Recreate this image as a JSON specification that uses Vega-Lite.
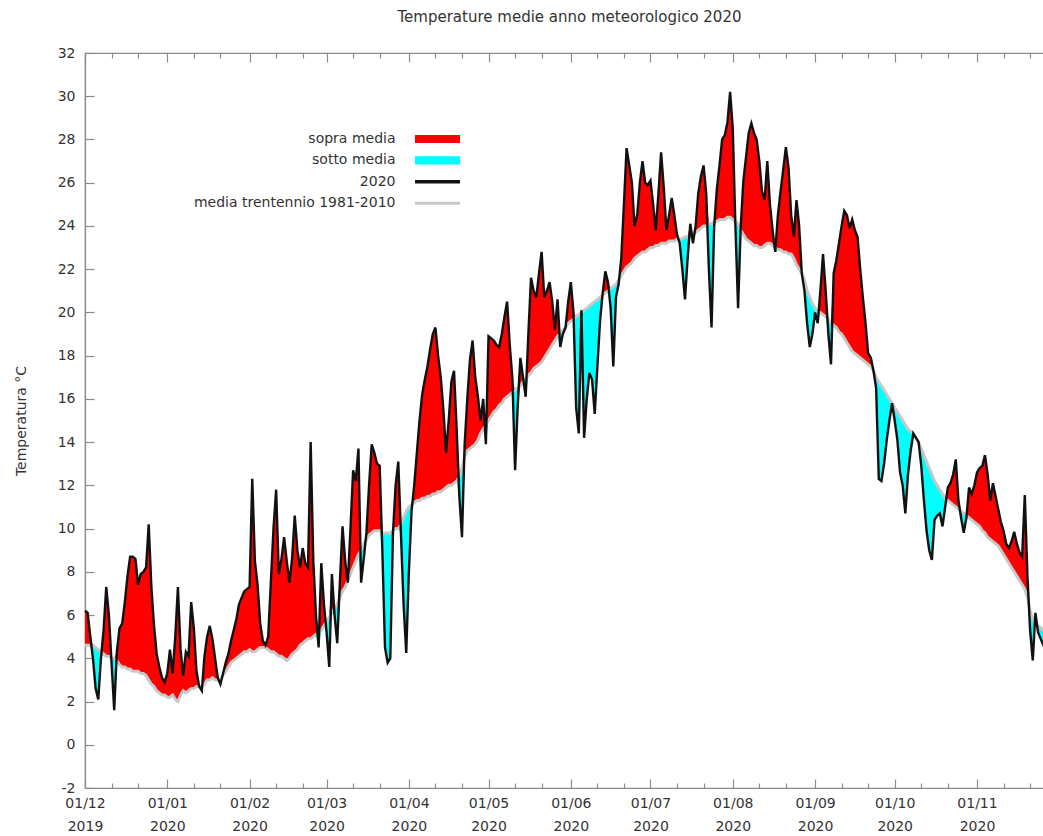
{
"$schema": "https://vega.github.io/schema/vega-lite/v6.json",
"width": 969, "height": 735,
"autosize": {"type": "none"},
"padding": {"left": 85, "top": 53, "right": 0, "bottom": 48},
"background": "white",
"title": {"text": "Temperature medie anno meteorologico 2020", "font": "DejaVu Sans", "fontSize": 15, "fontWeight": "normal", "color": "#333333", "offset": 21, "anchor": "middle"},
"data": {"values": [
{"d":"2019/12/01","t":6.2,"m":4.6},{"d":"2019/12/02","t":6.1,"m":4.6},{"d":"2019/12/03","t":5.0,"m":4.6},{"d":"2019/12/04","t":4.0,"m":4.6},{"d":"2019/12/05","t":2.6,"m":4.5},{"d":"2019/12/06","t":2.1,"m":4.4},{"d":"2019/12/07","t":4.0,"m":4.3},{"d":"2019/12/08","t":5.3,"m":4.2},{"d":"2019/12/09","t":7.3,"m":4.1},{"d":"2019/12/10","t":6.0,"m":4.1},
{"d":"2019/12/11","t":3.8,"m":4.0},{"d":"2019/12/12","t":1.6,"m":4.0},{"d":"2019/12/13","t":4.3,"m":3.9},{"d":"2019/12/14","t":5.4,"m":3.7},{"d":"2019/12/15","t":5.6,"m":3.6},{"d":"2019/12/16","t":6.6,"m":3.6},{"d":"2019/12/17","t":7.8,"m":3.5},{"d":"2019/12/18","t":8.7,"m":3.5},{"d":"2019/12/19","t":8.7,"m":3.4},{"d":"2019/12/20","t":8.6,"m":3.4},
{"d":"2019/12/21","t":7.4,"m":3.4},{"d":"2019/12/22","t":7.9,"m":3.3},{"d":"2019/12/23","t":8.0,"m":3.3},{"d":"2019/12/24","t":8.2,"m":3.2},{"d":"2019/12/25","t":10.2,"m":3.0},{"d":"2019/12/26","t":7.3,"m":2.8},{"d":"2019/12/27","t":5.5,"m":2.7},{"d":"2019/12/28","t":4.2,"m":2.5},{"d":"2019/12/29","t":3.6,"m":2.4},{"d":"2019/12/30","t":3.1,"m":2.3},{"d":"2019/12/31","t":2.9,"m":2.3},
{"d":"2020/01/01","t":3.3,"m":2.2},{"d":"2020/01/02","t":4.4,"m":2.2},{"d":"2020/01/03","t":3.3,"m":2.3},{"d":"2020/01/04","t":5.0,"m":2.1},{"d":"2020/01/05","t":7.3,"m":2.0},{"d":"2020/01/06","t":4.4,"m":2.3},{"d":"2020/01/07","t":3.2,"m":2.5},{"d":"2020/01/08","t":4.3,"m":2.4},{"d":"2020/01/09","t":4.1,"m":2.5},{"d":"2020/01/10","t":6.6,"m":2.6},
{"d":"2020/01/11","t":5.4,"m":2.6},{"d":"2020/01/12","t":3.4,"m":2.7},{"d":"2020/01/13","t":2.7,"m":2.7},{"d":"2020/01/14","t":2.5,"m":2.7},{"d":"2020/01/15","t":4.1,"m":2.8},{"d":"2020/01/16","t":5.0,"m":3.0},{"d":"2020/01/17","t":5.5,"m":3.0},{"d":"2020/01/18","t":4.9,"m":3.1},{"d":"2020/01/19","t":4.0,"m":3.0},{"d":"2020/01/20","t":3.1,"m":3.0},
{"d":"2020/01/21","t":2.8,"m":3.0},{"d":"2020/01/22","t":3.3,"m":3.2},{"d":"2020/01/23","t":3.8,"m":3.4},{"d":"2020/01/24","t":4.2,"m":3.6},{"d":"2020/01/25","t":4.8,"m":3.8},{"d":"2020/01/26","t":5.3,"m":3.9},{"d":"2020/01/27","t":5.8,"m":4.0},{"d":"2020/01/28","t":6.5,"m":4.1},{"d":"2020/01/29","t":6.8,"m":4.2},{"d":"2020/01/30","t":7.1,"m":4.3},{"d":"2020/01/31","t":7.2,"m":4.3},
{"d":"2020/02/01","t":7.3,"m":4.4},{"d":"2020/02/02","t":12.3,"m":4.3},{"d":"2020/02/03","t":8.5,"m":4.3},{"d":"2020/02/04","t":7.4,"m":4.4},{"d":"2020/02/05","t":5.6,"m":4.5},{"d":"2020/02/06","t":4.8,"m":4.5},{"d":"2020/02/07","t":4.6,"m":4.5},{"d":"2020/02/08","t":5.0,"m":4.4},{"d":"2020/02/09","t":7.5,"m":4.3},{"d":"2020/02/10","t":10.0,"m":4.3},
{"d":"2020/02/11","t":11.8,"m":4.2},{"d":"2020/02/12","t":7.9,"m":4.1},{"d":"2020/02/13","t":8.6,"m":4.1},{"d":"2020/02/14","t":9.6,"m":4.0},{"d":"2020/02/15","t":8.5,"m":3.9},{"d":"2020/02/16","t":7.5,"m":4.0},{"d":"2020/02/17","t":8.6,"m":4.2},{"d":"2020/02/18","t":10.6,"m":4.3},{"d":"2020/02/19","t":9.0,"m":4.4},{"d":"2020/02/20","t":8.2,"m":4.6},
{"d":"2020/02/21","t":9.1,"m":4.7},{"d":"2020/02/22","t":8.4,"m":4.8},{"d":"2020/02/23","t":8.2,"m":4.9},{"d":"2020/02/24","t":14.0,"m":4.9},{"d":"2020/02/25","t":8.5,"m":5.0},{"d":"2020/02/26","t":6.0,"m":5.1},{"d":"2020/02/27","t":4.5,"m":5.2},{"d":"2020/02/28","t":8.4,"m":5.3},{"d":"2020/02/29","t":6.5,"m":5.5},
{"d":"2020/03/01","t":5.2,"m":5.7},{"d":"2020/03/02","t":3.6,"m":5.9},{"d":"2020/03/03","t":7.9,"m":6.1},{"d":"2020/03/04","t":6.0,"m":6.3},{"d":"2020/03/05","t":4.7,"m":6.5},{"d":"2020/03/06","t":7.5,"m":6.8},{"d":"2020/03/07","t":10.1,"m":7.1},{"d":"2020/03/08","t":8.5,"m":7.3},{"d":"2020/03/09","t":7.5,"m":7.6},{"d":"2020/03/10","t":10.0,"m":7.9},
{"d":"2020/03/11","t":12.7,"m":8.2},{"d":"2020/03/12","t":12.2,"m":8.5},{"d":"2020/03/13","t":13.7,"m":8.8},{"d":"2020/03/14","t":7.5,"m":9.0},{"d":"2020/03/15","t":8.6,"m":9.3},{"d":"2020/03/16","t":9.8,"m":9.5},{"d":"2020/03/17","t":12.0,"m":9.7},{"d":"2020/03/18","t":13.9,"m":9.8},{"d":"2020/03/19","t":13.5,"m":9.9},{"d":"2020/03/20","t":13.0,"m":9.9},
{"d":"2020/03/21","t":12.9,"m":9.9},{"d":"2020/03/22","t":9.0,"m":9.8},{"d":"2020/03/23","t":4.5,"m":9.8},{"d":"2020/03/24","t":3.8,"m":9.8},{"d":"2020/03/25","t":4.0,"m":9.8},{"d":"2020/03/26","t":9.8,"m":9.9},{"d":"2020/03/27","t":12.0,"m":10.0},{"d":"2020/03/28","t":13.1,"m":10.0},{"d":"2020/03/29","t":9.8,"m":10.2},{"d":"2020/03/30","t":6.5,"m":10.5},{"d":"2020/03/31","t":4.25,"m":10.8},
{"d":"2020/04/01","t":8.0,"m":11.0},{"d":"2020/04/02","t":10.8,"m":11.1},{"d":"2020/04/03","t":12.0,"m":11.2},{"d":"2020/04/04","t":13.5,"m":11.3},{"d":"2020/04/05","t":15.0,"m":11.3},{"d":"2020/04/06","t":16.2,"m":11.4},{"d":"2020/04/07","t":16.9,"m":11.4},{"d":"2020/04/08","t":17.5,"m":11.5},{"d":"2020/04/09","t":18.3,"m":11.5},{"d":"2020/04/10","t":19.0,"m":11.6},
{"d":"2020/04/11","t":19.3,"m":11.6},{"d":"2020/04/12","t":18.0,"m":11.7},{"d":"2020/04/13","t":17.0,"m":11.7},{"d":"2020/04/14","t":15.5,"m":11.8},{"d":"2020/04/15","t":13.5,"m":11.9},{"d":"2020/04/16","t":15.0,"m":12.0},{"d":"2020/04/17","t":16.8,"m":12.0},{"d":"2020/04/18","t":17.3,"m":12.1},{"d":"2020/04/19","t":14.6,"m":12.2},{"d":"2020/04/20","t":11.5,"m":12.4},
{"d":"2020/04/21","t":9.6,"m":12.8},{"d":"2020/04/22","t":13.9,"m":13.3},{"d":"2020/04/23","t":16.0,"m":13.6},{"d":"2020/04/24","t":17.8,"m":13.7},{"d":"2020/04/25","t":18.7,"m":13.8},{"d":"2020/04/26","t":17.0,"m":13.9},{"d":"2020/04/27","t":16.1,"m":14.1},{"d":"2020/04/28","t":15.0,"m":14.4},{"d":"2020/04/29","t":16.0,"m":14.6},{"d":"2020/04/30","t":13.9,"m":14.8},
{"d":"2020/05/01","t":18.9,"m":15.0},{"d":"2020/05/02","t":18.8,"m":15.2},{"d":"2020/05/03","t":18.7,"m":15.4},{"d":"2020/05/04","t":18.5,"m":15.5},{"d":"2020/05/05","t":18.4,"m":15.7},{"d":"2020/05/06","t":19.0,"m":15.8},{"d":"2020/05/07","t":19.8,"m":16.0},{"d":"2020/05/08","t":20.5,"m":16.1},{"d":"2020/05/09","t":18.5,"m":16.2},{"d":"2020/05/10","t":16.9,"m":16.3},
{"d":"2020/05/11","t":12.7,"m":16.4},{"d":"2020/05/12","t":15.7,"m":16.5},{"d":"2020/05/13","t":17.9,"m":16.6},{"d":"2020/05/14","t":17.0,"m":16.8},{"d":"2020/05/15","t":16.1,"m":16.9},{"d":"2020/05/16","t":19.0,"m":17.1},{"d":"2020/05/17","t":21.6,"m":17.2},{"d":"2020/05/18","t":21.0,"m":17.4},{"d":"2020/05/19","t":20.7,"m":17.5},{"d":"2020/05/20","t":21.8,"m":17.6},
{"d":"2020/05/21","t":22.8,"m":17.7},{"d":"2020/05/22","t":20.7,"m":17.9},{"d":"2020/05/23","t":21.0,"m":18.1},{"d":"2020/05/24","t":21.4,"m":18.3},{"d":"2020/05/25","t":20.5,"m":18.5},{"d":"2020/05/26","t":19.2,"m":18.7},{"d":"2020/05/27","t":20.6,"m":18.9},{"d":"2020/05/28","t":18.4,"m":19.0},{"d":"2020/05/29","t":19.0,"m":19.2},{"d":"2020/05/30","t":19.3,"m":19.3},{"d":"2020/05/31","t":20.5,"m":19.5},
{"d":"2020/06/01","t":21.4,"m":19.6},{"d":"2020/06/02","t":20.0,"m":19.7},{"d":"2020/06/03","t":15.6,"m":19.8},{"d":"2020/06/04","t":14.4,"m":19.9},{"d":"2020/06/05","t":20.1,"m":20.0},{"d":"2020/06/06","t":14.2,"m":20.1},{"d":"2020/06/07","t":16.0,"m":20.2},{"d":"2020/06/08","t":17.2,"m":20.3},{"d":"2020/06/09","t":16.9,"m":20.4},{"d":"2020/06/10","t":15.3,"m":20.5},
{"d":"2020/06/11","t":17.5,"m":20.6},{"d":"2020/06/12","t":19.6,"m":20.7},{"d":"2020/06/13","t":20.9,"m":20.8},{"d":"2020/06/14","t":21.9,"m":20.9},{"d":"2020/06/15","t":21.4,"m":21.0},{"d":"2020/06/16","t":20.2,"m":21.1},{"d":"2020/06/17","t":17.5,"m":21.2},{"d":"2020/06/18","t":20.7,"m":21.3},{"d":"2020/06/19","t":21.3,"m":21.5},{"d":"2020/06/20","t":22.5,"m":21.7},
{"d":"2020/06/21","t":25.0,"m":21.9},{"d":"2020/06/22","t":27.6,"m":22.1},{"d":"2020/06/23","t":26.8,"m":22.2},{"d":"2020/06/24","t":26.0,"m":22.3},{"d":"2020/06/25","t":24.0,"m":22.5},{"d":"2020/06/26","t":24.5,"m":22.6},{"d":"2020/06/27","t":26.0,"m":22.7},{"d":"2020/06/28","t":27.0,"m":22.8},{"d":"2020/06/29","t":26.0,"m":22.8},{"d":"2020/06/30","t":25.9,"m":22.9},
{"d":"2020/07/01","t":26.1,"m":23.0},{"d":"2020/07/02","t":25.0,"m":23.0},{"d":"2020/07/03","t":23.8,"m":23.1},{"d":"2020/07/04","t":25.5,"m":23.1},{"d":"2020/07/05","t":27.4,"m":23.2},{"d":"2020/07/06","t":25.8,"m":23.2},{"d":"2020/07/07","t":23.8,"m":23.2},{"d":"2020/07/08","t":24.5,"m":23.3},{"d":"2020/07/09","t":25.3,"m":23.3},{"d":"2020/07/10","t":24.5,"m":23.3},
{"d":"2020/07/11","t":23.6,"m":23.4},{"d":"2020/07/12","t":23.2,"m":23.4},{"d":"2020/07/13","t":22.0,"m":23.4},{"d":"2020/07/14","t":20.6,"m":23.5},{"d":"2020/07/15","t":22.5,"m":23.5},{"d":"2020/07/16","t":24.1,"m":23.5},{"d":"2020/07/17","t":23.2,"m":23.6},{"d":"2020/07/18","t":24.0,"m":23.7},{"d":"2020/07/19","t":25.5,"m":23.8},{"d":"2020/07/20","t":26.3,"m":23.9},
{"d":"2020/07/21","t":26.8,"m":24.0},{"d":"2020/07/22","t":25.5,"m":24.0},{"d":"2020/07/23","t":22.0,"m":24.1},{"d":"2020/07/24","t":19.3,"m":24.1},{"d":"2020/07/25","t":24.0,"m":24.2},{"d":"2020/07/26","t":25.7,"m":24.2},{"d":"2020/07/27","t":26.8,"m":24.3},{"d":"2020/07/28","t":28.0,"m":24.3},{"d":"2020/07/29","t":28.2,"m":24.3},{"d":"2020/07/30","t":28.8,"m":24.4},{"d":"2020/07/31","t":30.2,"m":24.4},
{"d":"2020/08/01","t":28.5,"m":24.3},{"d":"2020/08/02","t":24.0,"m":24.2},{"d":"2020/08/03","t":20.2,"m":24.1},{"d":"2020/08/04","t":24.0,"m":23.8},{"d":"2020/08/05","t":26.1,"m":23.6},{"d":"2020/08/06","t":27.2,"m":23.4},{"d":"2020/08/07","t":28.3,"m":23.3},{"d":"2020/08/08","t":28.75,"m":23.2},{"d":"2020/08/09","t":28.3,"m":23.1},{"d":"2020/08/10","t":28.0,"m":23.1},
{"d":"2020/08/11","t":27.0,"m":23.0},{"d":"2020/08/12","t":25.6,"m":23.0},{"d":"2020/08/13","t":25.2,"m":23.1},{"d":"2020/08/14","t":27.0,"m":23.2},{"d":"2020/08/15","t":25.0,"m":23.2},{"d":"2020/08/16","t":23.8,"m":23.1},{"d":"2020/08/17","t":22.8,"m":23.0},{"d":"2020/08/18","t":24.5,"m":22.9},{"d":"2020/08/19","t":25.6,"m":22.9},{"d":"2020/08/20","t":26.6,"m":22.8},
{"d":"2020/08/21","t":27.65,"m":22.8},{"d":"2020/08/22","t":26.7,"m":22.7},{"d":"2020/08/23","t":24.5,"m":22.7},{"d":"2020/08/24","t":23.5,"m":22.5},{"d":"2020/08/25","t":25.2,"m":22.2},{"d":"2020/08/26","t":24.0,"m":22.0},{"d":"2020/08/27","t":21.8,"m":21.8},{"d":"2020/08/28","t":21.0,"m":21.5},{"d":"2020/08/29","t":19.5,"m":21.0},{"d":"2020/08/30","t":18.4,"m":20.7},{"d":"2020/08/31","t":19.0,"m":20.4},
{"d":"2020/09/01","t":20.0,"m":20.2},{"d":"2020/09/02","t":19.5,"m":20.0},{"d":"2020/09/03","t":21.0,"m":20.0},{"d":"2020/09/04","t":22.7,"m":19.9},{"d":"2020/09/05","t":21.0,"m":19.8},{"d":"2020/09/06","t":19.0,"m":19.7},{"d":"2020/09/07","t":17.6,"m":19.5},{"d":"2020/09/08","t":21.8,"m":19.4},{"d":"2020/09/09","t":22.4,"m":19.3},{"d":"2020/09/10","t":23.2,"m":19.1},
{"d":"2020/09/11","t":24.0,"m":19.0},{"d":"2020/09/12","t":24.7,"m":18.8},{"d":"2020/09/13","t":24.5,"m":18.6},{"d":"2020/09/14","t":23.9,"m":18.4},{"d":"2020/09/15","t":24.3,"m":18.2},{"d":"2020/09/16","t":23.8,"m":18.1},{"d":"2020/09/17","t":23.5,"m":18.0},{"d":"2020/09/18","t":22.0,"m":17.9},{"d":"2020/09/19","t":20.7,"m":17.8},{"d":"2020/09/20","t":19.5,"m":17.7},
{"d":"2020/09/21","t":18.1,"m":17.6},{"d":"2020/09/22","t":17.9,"m":17.5},{"d":"2020/09/23","t":17.3,"m":17.3},{"d":"2020/09/24","t":16.5,"m":17.0},{"d":"2020/09/25","t":12.3,"m":16.8},{"d":"2020/09/26","t":12.2,"m":16.6},{"d":"2020/09/27","t":13.0,"m":16.4},{"d":"2020/09/28","t":14.1,"m":16.2},{"d":"2020/09/29","t":15.0,"m":16.0},{"d":"2020/09/30","t":15.8,"m":15.8},
{"d":"2020/10/01","t":15.0,"m":15.6},{"d":"2020/10/02","t":14.1,"m":15.4},{"d":"2020/10/03","t":12.6,"m":15.2},{"d":"2020/10/04","t":12.0,"m":15.0},{"d":"2020/10/05","t":10.7,"m":14.8},{"d":"2020/10/06","t":12.5,"m":14.6},{"d":"2020/10/07","t":13.6,"m":14.5},{"d":"2020/10/08","t":14.4,"m":14.4},{"d":"2020/10/09","t":14.2,"m":14.2},{"d":"2020/10/10","t":14.0,"m":14.0},
{"d":"2020/10/11","t":12.9,"m":13.7},{"d":"2020/10/12","t":11.3,"m":13.4},{"d":"2020/10/13","t":9.9,"m":13.1},{"d":"2020/10/14","t":9.0,"m":12.8},{"d":"2020/10/15","t":8.55,"m":12.5},{"d":"2020/10/16","t":10.4,"m":12.2},{"d":"2020/10/17","t":10.6,"m":12.0},{"d":"2020/10/18","t":10.7,"m":11.8},{"d":"2020/10/19","t":10.1,"m":11.6},{"d":"2020/10/20","t":11.0,"m":11.4},
{"d":"2020/10/21","t":11.9,"m":11.3},{"d":"2020/10/22","t":12.1,"m":11.2},{"d":"2020/10/23","t":12.5,"m":11.1},{"d":"2020/10/24","t":13.2,"m":11.0},{"d":"2020/10/25","t":11.3,"m":10.9},{"d":"2020/10/26","t":10.5,"m":10.8},{"d":"2020/10/27","t":9.8,"m":10.7},{"d":"2020/10/28","t":10.5,"m":10.6},{"d":"2020/10/29","t":11.9,"m":10.5},{"d":"2020/10/30","t":11.6,"m":10.4},{"d":"2020/10/31","t":12.0,"m":10.3},
{"d":"2020/11/01","t":12.6,"m":10.2},{"d":"2020/11/02","t":12.8,"m":10.1},{"d":"2020/11/03","t":12.9,"m":9.9},{"d":"2020/11/04","t":13.4,"m":9.8},{"d":"2020/11/05","t":12.5,"m":9.6},{"d":"2020/11/06","t":11.3,"m":9.5},{"d":"2020/11/07","t":12.1,"m":9.4},{"d":"2020/11/08","t":11.5,"m":9.3},{"d":"2020/11/09","t":10.9,"m":9.2},{"d":"2020/11/10","t":10.3,"m":9.0},
{"d":"2020/11/11","t":9.9,"m":8.8},{"d":"2020/11/12","t":9.3,"m":8.6},{"d":"2020/11/13","t":9.1,"m":8.4},{"d":"2020/11/14","t":9.4,"m":8.2},{"d":"2020/11/15","t":9.85,"m":8.0},{"d":"2020/11/16","t":9.3,"m":7.8},{"d":"2020/11/17","t":8.9,"m":7.6},{"d":"2020/11/18","t":8.7,"m":7.4},{"d":"2020/11/19","t":11.55,"m":7.2},{"d":"2020/11/20","t":7.8,"m":6.8},
{"d":"2020/11/21","t":5.3,"m":6.2},{"d":"2020/11/22","t":3.9,"m":5.8},{"d":"2020/11/23","t":6.1,"m":5.6},{"d":"2020/11/24","t":5.2,"m":5.5},{"d":"2020/11/25","t":4.9,"m":5.4},{"d":"2020/11/26","t":4.6,"m":5.3},{"d":"2020/11/27","t":4.8,"m":5.2}
]},
"layer": [
{
"transform": [{"fold": ["t", "m"], "as": ["k", "v"]}, {"aggregate": [{"op": "max", "field": "v", "as": "hi"}, {"op": "min", "field": "v", "as": "lo"}], "groupby": ["d", "m"]}],
"mark": {"type": "area", "interpolate": "linear"},
"encoding": {
"x": {"field": "d", "type": "temporal", "title": null,
"scale": {"domain": [{"year": 2019, "month": 12, "date": 1}, {"year": 2020, "month": 11, "date": 30}], "nice": false},
"axis": {"orient": "bottom", "values": [{"year":2019,"month":12,"date":1},{"year":2020,"month":1,"date":1},{"year":2020,"month":2,"date":1},{"year":2020,"month":3,"date":1},{"year":2020,"month":4,"date":1},{"year":2020,"month":5,"date":1},{"year":2020,"month":6,"date":1},{"year":2020,"month":7,"date":1},{"year":2020,"month":8,"date":1},{"year":2020,"month":9,"date":1},{"year":2020,"month":10,"date":1},{"year":2020,"month":11,"date":1}],
"labelExpr": "[timeFormat(datum.value, '%d/%m'), timeFormat(datum.value, '%Y')]",
"tickSize": -9, "labelPadding": 17, "labelLineHeight": 23, "labelFlush": false, "labelOverlap": false, "labelBound": false, "labelAlign": "center", "labelBaseline": "top", "domain": true}},
"y": {"field": "m", "type": "quantitative", "title": "Temperatura °C", "scale": {"domain": [-2, 32], "nice": false, "zero": false}},
"y2": {"field": "hi"},
"color": {"datum": "sopra media",
"scale": {"domain": ["sopra media", "sotto media", "2020", "media trentennio 1981-2010"], "range": ["#ff0000", "#00ffff", "#111111", "#c8c8c8"]},
"legend": {"orient": "none", "legendX": 330, "legendY": 77, "title": null, "symbolSize": 324, "symbolStrokeWidth": 0, "symbolOffset": 13.5, "labelAlign": "right", "labelOffset": -51, "labelFont": "DejaVu Sans", "labelFontSize": 14, "labelColor": "#333333", "rowPadding": 5.4, "labelLimit": 400,
"encode": {"symbols": {"update": {
"shape": {"signal": "(datum.value === 'sopra media' || datum.value === 'sotto media') ? 'M-2.5,-0.45H2.5V0.45H-2.5Z' : (datum.value === '2020' ? 'M-2.5,-0.2H2.5V0.2H-2.5Z' : 'M-2.5,-0.17H2.5V0.17H-2.5Z')"},
"fill": {"signal": "datum.value === '2020' ? '#555555' : scale('color', datum.value)"},
"stroke": {"value": "transparent"}, "opacity": {"value": 1}, "fillOpacity": {"value": 1}}}}}}
}
},
{
"transform": [{"fold": ["t", "m"], "as": ["k", "v"]}, {"aggregate": [{"op": "max", "field": "v", "as": "hi"}, {"op": "min", "field": "v", "as": "lo"}], "groupby": ["d", "m"]}],
"mark": {"type": "area", "interpolate": "linear"},
"encoding": {
"x": {"field": "d", "type": "temporal", "title": null,
"axis": {"orient": "bottom", "values": [{"year":2019,"month":12,"date":11},{"year":2019,"month":12,"date":21},{"year":2020,"month":1,"date":11},{"year":2020,"month":1,"date":21},{"year":2020,"month":2,"date":11},{"year":2020,"month":2,"date":21},{"year":2020,"month":3,"date":11},{"year":2020,"month":3,"date":21},{"year":2020,"month":4,"date":11},{"year":2020,"month":4,"date":21},{"year":2020,"month":5,"date":11},{"year":2020,"month":5,"date":21},{"year":2020,"month":6,"date":11},{"year":2020,"month":6,"date":21},{"year":2020,"month":7,"date":11},{"year":2020,"month":7,"date":21},{"year":2020,"month":8,"date":11},{"year":2020,"month":8,"date":21},{"year":2020,"month":9,"date":11},{"year":2020,"month":9,"date":21},{"year":2020,"month":10,"date":11},{"year":2020,"month":10,"date":21},{"year":2020,"month":11,"date":11},{"year":2020,"month":11,"date":21}],
"labels": false, "domain": false, "tickSize": -5}},
"y": {"field": "lo", "type": "quantitative", "title": "Temperatura °C"},
"y2": {"field": "m"},
"color": {"datum": "sotto media"}
}
},
{
"mark": {"type": "line", "strokeWidth": 3, "interpolate": "linear"},
"encoding": {
"x": {"field": "d", "type": "temporal", "title": null,
"axis": {"orient": "top", "values": [{"year":2019,"month":12,"date":1},{"year":2020,"month":1,"date":1},{"year":2020,"month":2,"date":1},{"year":2020,"month":3,"date":1},{"year":2020,"month":4,"date":1},{"year":2020,"month":5,"date":1},{"year":2020,"month":6,"date":1},{"year":2020,"month":7,"date":1},{"year":2020,"month":8,"date":1},{"year":2020,"month":9,"date":1},{"year":2020,"month":10,"date":1},{"year":2020,"month":11,"date":1}],
"labels": false, "domain": false, "tickSize": -9}},
"y": {"field": "m", "type": "quantitative", "title": "Temperatura °C"},
"color": {"datum": "media trentennio 1981-2010"}
}
},
{
"mark": {"type": "line", "strokeWidth": 2.4, "interpolate": "linear"},
"encoding": {
"x": {"field": "d", "type": "temporal", "title": null,
"axis": {"orient": "top", "values": [{"year":2019,"month":12,"date":11},{"year":2019,"month":12,"date":21},{"year":2020,"month":1,"date":11},{"year":2020,"month":1,"date":21},{"year":2020,"month":2,"date":11},{"year":2020,"month":2,"date":21},{"year":2020,"month":3,"date":11},{"year":2020,"month":3,"date":21},{"year":2020,"month":4,"date":11},{"year":2020,"month":4,"date":21},{"year":2020,"month":5,"date":11},{"year":2020,"month":5,"date":21},{"year":2020,"month":6,"date":11},{"year":2020,"month":6,"date":21},{"year":2020,"month":7,"date":11},{"year":2020,"month":7,"date":21},{"year":2020,"month":8,"date":11},{"year":2020,"month":8,"date":21},{"year":2020,"month":9,"date":11},{"year":2020,"month":9,"date":21},{"year":2020,"month":10,"date":11},{"year":2020,"month":10,"date":21},{"year":2020,"month":11,"date":11},{"year":2020,"month":11,"date":21}],
"labels": false, "domain": false, "tickSize": -5}},
"y": {"field": "t", "type": "quantitative", "title": "Temperatura °C"},
"color": {"datum": "2020"}
}
}
],
"resolve": {"axis": {"x": "independent"}},
"config": {
"font": "DejaVu Sans",
"view": {"stroke": "#8a8a8a", "strokeWidth": 1.2},
"axis": {"grid": false, "domainColor": "#8a8a8a", "tickColor": "#8a8a8a", "domainWidth": 1.2, "tickWidth": 1.2, "labelColor": "#333333", "labelFont": "DejaVu Sans", "labelFontSize": 14, "titleFont": "DejaVu Sans", "titleFontSize": 14, "titleFontWeight": "normal", "titleColor": "#333333"},
"axisY": {"tickSize": -9, "labelPadding": 19, "titlePadding": 29, "tickCount": 17, "labelExpr": "'' + datum.value"}
}
}
